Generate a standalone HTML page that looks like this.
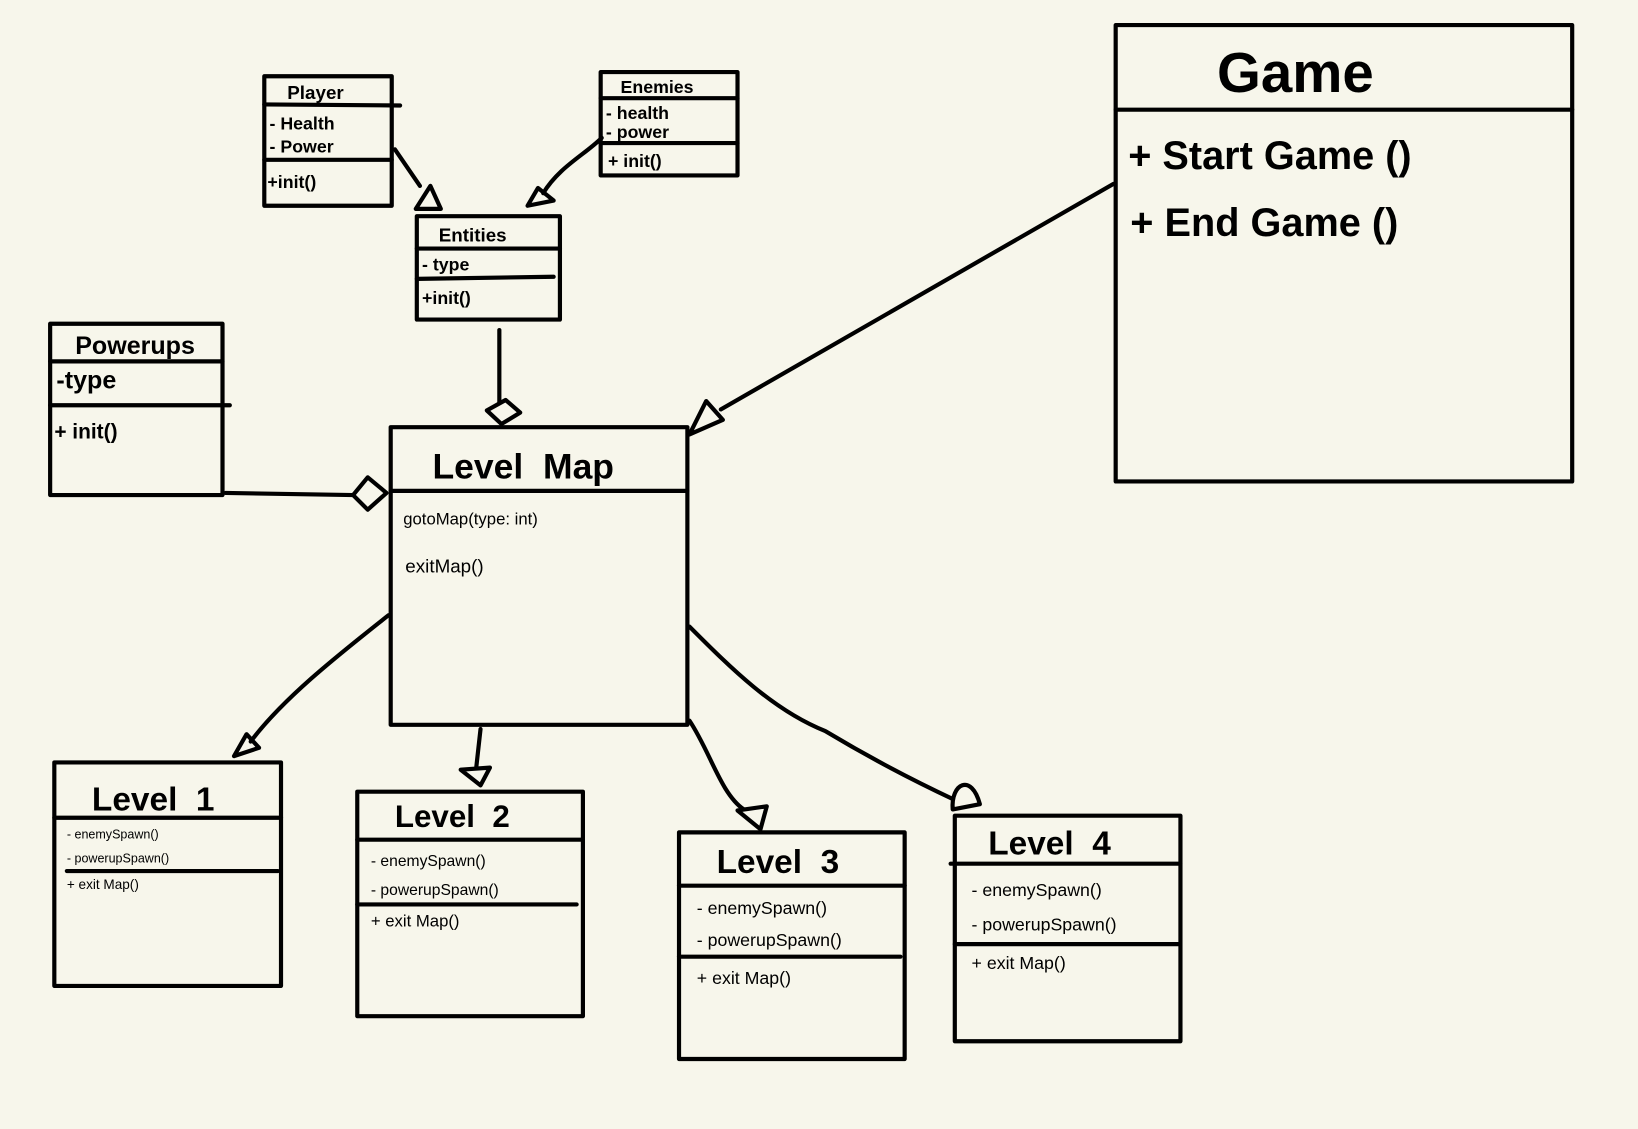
<!DOCTYPE html>
<html><head><meta charset="utf-8"><style>
html,body{margin:0;padding:0;background:#f7f6eb;}
svg{display:block}
text{font-family:"Liberation Sans",sans-serif;font-weight:bold;fill:#000}
.t{font-weight:normal}
</style></head><body>
<svg width="1638" height="1129" viewBox="0 0 1568 1081" preserveAspectRatio="none">
<rect width="1568" height="1081" fill="#f7f6eb"/>
<g fill="none" stroke="#000" stroke-width="4" stroke-linecap="round" stroke-linejoin="round">
<rect x="1068" y="24" width="437" height="437"/>
<line x1="1068" y1="105" x2="1505" y2="105"/>
<rect x="253" y="73" width="122" height="124"/>
<line x1="253" y1="100" x2="383" y2="101"/>
<line x1="253" y1="153" x2="375" y2="153"/>
<rect x="575" y="69" width="131" height="99"/>
<line x1="575" y1="94" x2="706" y2="94"/>
<line x1="575" y1="137" x2="706" y2="137"/>
<rect x="399" y="207" width="137" height="99"/>
<line x1="399" y1="238" x2="536" y2="238"/>
<line x1="399" y1="267" x2="530" y2="265"/>
<rect x="48" y="310" width="165" height="164"/>
<line x1="48" y1="346" x2="213" y2="346"/>
<line x1="48" y1="388" x2="220" y2="388"/>
<rect x="374" y="409" width="284" height="285"/>
<line x1="374" y1="470" x2="658" y2="470"/>
<rect x="52" y="730" width="217" height="214"/>
<line x1="52" y1="783" x2="269" y2="783"/>
<line x1="64" y1="834" x2="266" y2="834"/>
<rect x="342" y="758" width="216" height="215"/>
<line x1="342" y1="804" x2="558" y2="804"/>
<line x1="342" y1="866" x2="552" y2="866"/>
<rect x="650" y="797" width="216" height="217"/>
<line x1="650" y1="848" x2="866" y2="848"/>
<line x1="650" y1="916" x2="862" y2="916"/>
<rect x="914" y="781" width="216" height="216"/>
<line x1="910" y1="827" x2="1130" y2="827"/>
<line x1="914" y1="904" x2="1128" y2="904"/>
<path d="M378 143 L402 178"/><polygon points="398,200 412,178 422,200"/>
<path d="M576 132 C560 148 535 160 520 185"/><polygon points="505,197 515,180 530,192"/>
<path d="M478 316 L478 385"/><polygon points="466,393 484,383 498,395 480,406"/>
<path d="M1066 176 L690 392"/><polygon points="660,416 676,384 692,402"/>
<path d="M216 472 L338 474"/><polygon points="338,474 352,457 370,472 352,488"/>
<path d="M372 589 C320 630 270 670 240 710"/><polygon points="224,724 236,703 248,716"/>
<path d="M460 698 L456 734"/><polygon points="441,737 469,735 460,752"/>
<path d="M660 690 C680 720 690 760 712 775"/><polygon points="706,776 734,772 728,794"/>
<path d="M660 600 C700 640 740 680 790 700 C840 730 880 750 912 765"/><path d="M912 775 C910 750 930 740 938 770 L912 775Z"/>
</g>
<text x="1165" y="88" font-size="54">Game</text>
<text x="1080" y="162" font-size="38">+ Start Game ()</text>
<text x="1082" y="226" font-size="38">+ End Game ()</text>
<text x="275" y="95" font-size="18">Player</text>
<text x="258" y="124" font-size="17">- Health</text>
<text x="258" y="146" font-size="17">- Power</text>
<text x="256" y="180" font-size="17">+init()</text>
<text x="594" y="89" font-size="17">Enemies</text>
<text x="580" y="114" font-size="17">- health</text>
<text x="580" y="132" font-size="17">- power</text>
<text x="582" y="160" font-size="17">+ init()</text>
<text x="420" y="231" font-size="18">Entities</text>
<text x="404" y="259" font-size="17">- type</text>
<text x="404" y="291" font-size="17">+init()</text>
<text x="72" y="339" font-size="24">Powerups</text>
<text x="54" y="372" font-size="24">-type</text>
<text x="52" y="420" font-size="20">+ init()</text>
<text x="414" y="458" font-size="34">Level&#160; Map</text>
<text class="t" x="386" y="502" font-size="16">gotoMap(type: int)</text>
<text class="t" x="388" y="548" font-size="18">exitMap()</text>
<text x="88" y="776" font-size="32">Level&#160; 1</text>
<text class="t" x="64" y="803" font-size="12">- enemySpawn()</text>
<text class="t" x="64" y="826" font-size="12">- powerupSpawn()</text>
<text class="t" x="64" y="851" font-size="13">+ exit Map()</text>
<text x="378" y="792" font-size="30">Level&#160; 2</text>
<text class="t" x="355" y="829" font-size="15">- enemySpawn()</text>
<text class="t" x="355" y="857" font-size="15">- powerupSpawn()</text>
<text class="t" x="355" y="887" font-size="16">+ exit Map()</text>
<text x="686" y="836" font-size="32">Level&#160; 3</text>
<text class="t" x="667" y="875" font-size="17">- enemySpawn()</text>
<text class="t" x="667" y="906" font-size="17">- powerupSpawn()</text>
<text class="t" x="667" y="942" font-size="17">+ exit Map()</text>
<text x="946" y="818" font-size="32">Level&#160; 4</text>
<text class="t" x="930" y="858" font-size="17">- enemySpawn()</text>
<text class="t" x="930" y="891" font-size="17">- powerupSpawn()</text>
<text class="t" x="930" y="928" font-size="17">+ exit Map()</text>
</svg>
</body></html>
